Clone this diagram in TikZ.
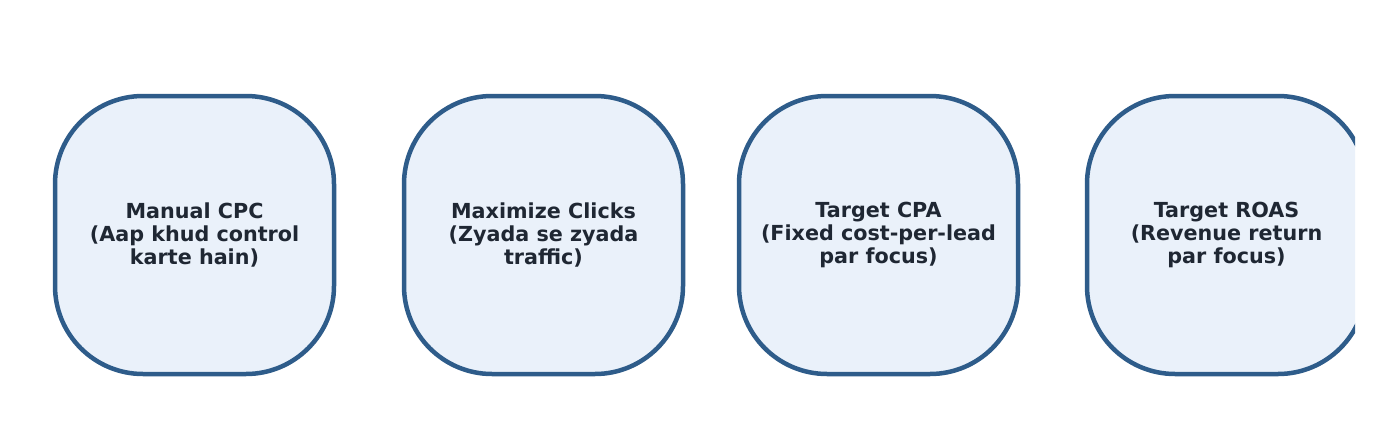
\documentclass[tikz,border=0pt]{standalone}
\usepackage{fontspec}
\setmainfont{DejaVu Sans}
\definecolor{bd}{HTML}{2E5C8A}
\definecolor{fl}{HTML}{EAF1FA}
\definecolor{tx}{HTML}{1F2733}
\begin{document}
\begin{tikzpicture}[x=1pt,y=-1pt,
  box/.style={draw=bd,line width=4.5pt,fill=fl,rounded corners=88pt,minimum width=279pt,minimum height=278pt,inner sep=0pt},
  lbl/.style={text=tx,font=\fontsize{20.7}{23}\selectfont\bfseries,align=center}]
\useasboundingbox (0,0) rectangle (1379,442);
\begin{scope}
\clip (0,0) rectangle (1355,442);
\node[box] (b1) at (194.5,235) {};
\node[box] (b2) at (543.5,235) {};
\node[box] (b3) at (878.5,235) {};
\node[box] (b4) at (1226.5,235) {};
\end{scope}
\node[lbl] (t1) at (b1) {Manual CPC\\(Aap khud control\\karte hain)};
\node[lbl] (t2) at (b2) {Maximize Clicks\\(Zyada se zyada\\traffic)};
\node[lbl] (t3) at (b3) {Target CPA\\(Fixed cost-per-lead\\par focus)};
\node[lbl] (t4) at (b4) {Target ROAS\\(Revenue return\\par focus)};
\end{tikzpicture}
\end{document}
